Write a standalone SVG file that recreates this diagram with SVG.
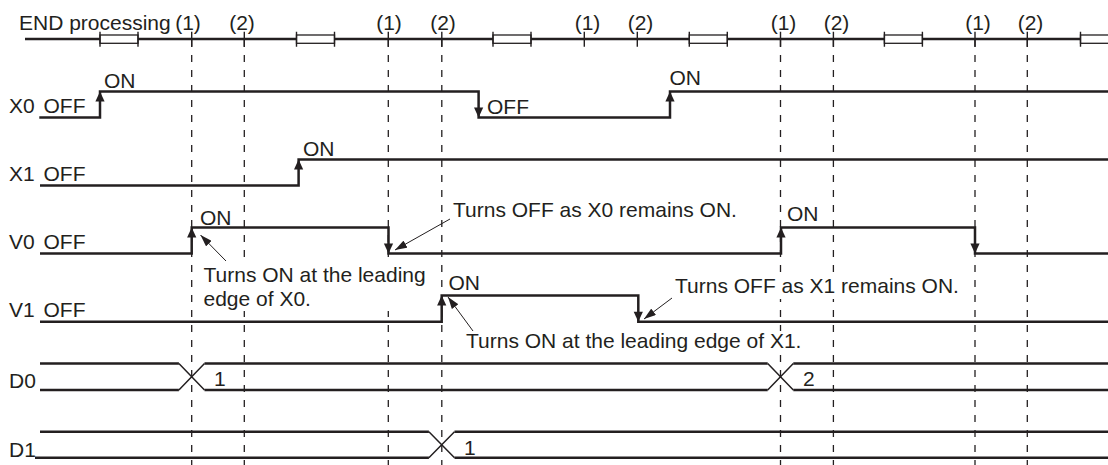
<svg xmlns="http://www.w3.org/2000/svg" xmlns:xlink="http://www.w3.org/1999/xlink" width="1108" height="465" viewBox="0 0 1108 465">
<style>
text{font-family:"Liberation Sans",Arial,sans-serif;font-size:21px;fill:#231f20}
.sig{fill:none;stroke:#231f20;stroke-width:2.5;stroke-linejoin:miter}
.thin{fill:none;stroke:#231f20;stroke-width:1.5}
.dash{fill:none;stroke:#231f20;stroke-width:1.3;stroke-dasharray:7 8}
.tick{stroke:#231f20;stroke-width:1.4}
.box{fill:#fff;stroke:#231f20;stroke-width:1.3}
.lead{fill:none;stroke:#231f20;stroke-width:1;marker-end:url(#ah)}
.bg{fill:#fff}
</style>
<defs>
<path id="up" d="M0,0 L4.6,10 L-4.6,10 Z" fill="#231f20"/>
<path id="dn" d="M0,0 L4.6,-10 L-4.6,-10 Z" fill="#231f20"/>
<marker id="ah" viewBox="0 0 12 8" refX="12" refY="4" markerWidth="12" markerHeight="8" markerUnits="userSpaceOnUse" orient="auto">
<path d="M0,0 L12,4 L0,8 Z" fill="#231f20"/>
</marker>
</defs>

<g id="guides">
<path class="dash" d="M191.7,40V465M244.3,40V465M388.3,40V465M441.8,40V465M780.5,40V465M833.4,40V465M975,40V465M1027.3,40V465"/>
</g>

<g id="end-processing">
<text x="19" y="29.5">END processing</text>
<line class="sig" x1="25" y1="39" x2="1108" y2="39"/>
<g id="end-boxes">
<rect class="box" x="100" y="35" width="38" height="8.3"/>
<rect class="box" x="296.5" y="35" width="38" height="8.3"/>
<rect class="box" x="493" y="35" width="38" height="8.3"/>
<rect class="box" x="689.3" y="35" width="38" height="8.3"/>
<rect class="box" x="884.4" y="35" width="38" height="8.3"/>
<rect class="box" x="1080.5" y="35" width="38" height="8.3"/>
<path class="tick" d="M100,31.7V46.7M138,31.7V46.7M296.5,31.7V46.7M334.5,31.7V46.7M493,31.7V46.7M531,31.7V46.7M689.3,31.7V46.7M727.3,31.7V46.7M884.4,31.7V46.7M922.4,31.7V46.7M1080.5,31.7V46.7"/>
</g>
<path class="tick" d="M191.7,31.7V46.7M244.3,31.7V46.7M388.3,31.7V46.7M441.8,31.7V46.7M584.3,31.7V46.7M637.3,31.7V46.7M780.5,31.7V46.7M833.4,31.7V46.7M975,31.7V46.7M1027.3,31.7V46.7"/>
<g text-anchor="middle">
<text x="188" y="29.5">(1)</text>
<text x="242" y="29.5">(2)</text>
<text x="389" y="29.5">(1)</text>
<text x="443" y="29.5">(2)</text>
<text x="587.5" y="29.5">(1)</text>
<text x="640.5" y="29.5">(2)</text>
<text x="783.5" y="29.5">(1)</text>
<text x="836.5" y="29.5">(2)</text>
<text x="978" y="29.5">(1)</text>
<text x="1030.5" y="29.5">(2)</text>
</g>
</g>

<g id="X0">
<text x="9" y="113">X0</text>
<text x="43.5" y="113">OFF</text>
<path class="sig" d="M39.3,117.5H100V91.5H478.6V117.5H670V91.5H1108"/>
<use xlink:href="#up" x="100" y="91.5"/>
<use xlink:href="#dn" x="478.6" y="117.5"/>
<use xlink:href="#up" x="670" y="91.5"/>
<text x="104" y="88">ON</text>
<text x="487" y="113.5">OFF</text>
<text x="669.5" y="85">ON</text>
</g>

<g id="X1">
<text x="9" y="181">X1</text>
<text x="43.5" y="181">OFF</text>
<path class="sig" d="M40,185.5H298.6V159.5H1108"/>
<use xlink:href="#up" x="298.6" y="159.5"/>
<text x="303" y="155.5">ON</text>
</g>

<g id="V0">
<text x="9" y="249">V0</text>
<text x="43.5" y="249">OFF</text>
<path class="sig" d="M40,253.5H191.7V227.5H388.5V253.5H781V227.5H975V253.5H1108"/>
<use xlink:href="#up" x="191.7" y="227.5"/>
<use xlink:href="#dn" x="388.5" y="253.5"/>
<use xlink:href="#up" x="781" y="227.5"/>
<use xlink:href="#dn" x="975" y="253.5"/>
<text x="200" y="224.5">ON</text>
<text x="787" y="220.5">ON</text>
</g>

<g id="V1">
<text x="9" y="317">V1</text>
<text x="43.5" y="317">OFF</text>
<path class="sig" d="M40,321.7H441.7V295.5H638.3V321.7H1108"/>
<use xlink:href="#up" x="441.7" y="295.5"/>
<use xlink:href="#dn" x="638.3" y="321.7"/>
<text x="448.5" y="290">ON</text>
</g>

<g id="D0">
<text x="9" y="388">D0</text>
<path class="sig" d="M40,363.5H178.9M204.5,363.5H767.7M793.3,363.5H1108M40,390H178.9M204.5,390H767.7M793.3,390H1108"/>
<path class="thin" d="M178.9,363.5L204.5,390M178.9,390L204.5,363.5M767.7,363.5L793.3,390M767.7,390L793.3,363.5"/>
<text x="214" y="386">1</text>
<text x="803" y="386">2</text>
</g>

<g id="D1">
<text x="9" y="456.5">D1</text>
<path class="sig" d="M40,431.7H428.9M454.5,431.7H1108M35,457.7H428.9M454.5,457.7H1108"/>
<path class="thin" d="M428.9,431.7L454.5,457.7M428.9,457.7L454.5,431.7"/>
<text x="464" y="454.5">1</text>
</g>

<g id="annotations">
<rect class="bg" x="451" y="201" width="292" height="22"/>
<text x="453" y="217">Turns OFF as X0 remains ON.</text>
<rect class="bg" x="200" y="263" width="230" height="48"/>
<text x="203.5" y="282">Turns ON at the leading</text>
<text x="203.5" y="306">edge of X0.</text>
<rect class="bg" x="673" y="277" width="294" height="22"/>
<text x="675" y="293">Turns OFF as X1 remains ON.</text>
<rect class="bg" x="464" y="331" width="342" height="23"/>
<text x="466" y="348">Turns ON at the leading edge of X1.</text>
</g>

<g id="connectors">
<line class="lead" x1="226" y1="261" x2="200.5" y2="235"/>
<line class="lead" x1="450" y1="219" x2="395" y2="250"/>
<line class="lead" x1="473" y1="331" x2="448" y2="297"/>
<line class="lead" x1="672" y1="298" x2="644" y2="319"/>
</g>
</svg>
